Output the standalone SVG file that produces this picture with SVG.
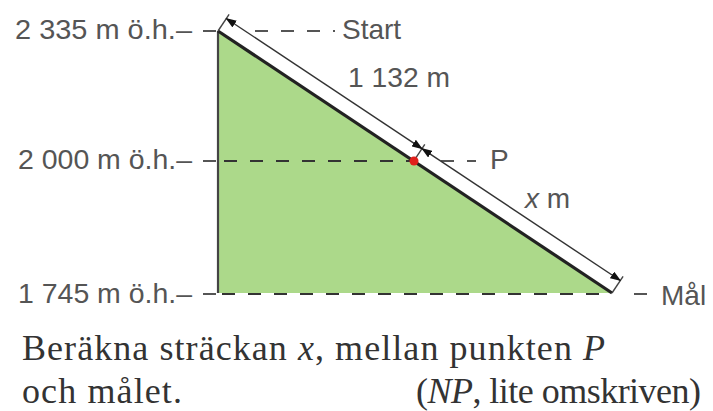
<svg xmlns="http://www.w3.org/2000/svg" width="713" height="411" viewBox="0 0 713 411">
<style>
.lbl{font-family:"Liberation Sans",Arial,sans-serif;font-size:28px;fill:#555}
.cap{font-family:"Liberation Serif","Times New Roman",serif;font-size:36px;fill:#333}
.dash{stroke:#555;stroke-width:2;stroke-dasharray:13 13;fill:none}
.dashd{stroke:#333;stroke-width:2;stroke-dasharray:13 13;fill:none}
.tick{stroke:#444;stroke-width:1.4;fill:none}
.dim{stroke:#333;stroke-width:1.4;fill:none;marker-start:url(#ah);marker-end:url(#ah)}
</style>
<defs>
<marker id="ah" markerUnits="userSpaceOnUse" markerWidth="11" markerHeight="8" refX="10" refY="4" orient="auto-start-reverse">
<path d="M0,0 L11,4 L0,8 z" fill="#111"/>
</marker>
</defs>
<rect width="713" height="411" fill="#fff"/>
<g id="triangle">
<polygon points="218,31 612,293 218,293" fill="#acd98a"/>
<line x1="218" y1="31" x2="218" y2="293" stroke="#444" stroke-width="2.2"/>
</g>
<g id="connectors">
<line class="dash" x1="203" y1="31" x2="335" y2="31"/>
<line class="dash" x1="203" y1="161" x2="218" y2="161"/>
<line class="dashd" x1="220" y1="161" x2="412" y2="161" stroke-dashoffset="-4"/>
<line class="dash" x1="441" y1="161" x2="476" y2="161"/>
<line class="dash" x1="203" y1="294" x2="218" y2="294"/>
<line class="dashd" x1="222" y1="294" x2="612" y2="294"/>
<line class="dash" x1="634" y1="294" x2="648" y2="294"/>
<polygon points="218,31 612,293 620.3,280.5 226.3,18.5" fill="#fff"/>
<line x1="218" y1="31" x2="612" y2="293" stroke="#222" stroke-width="3.2"/>
<line class="tick" x1="218" y1="31" x2="229.1" y2="14.3"/>
<line class="tick" x1="413.7" y1="161.1" x2="424.8" y2="144.4"/>
<line class="tick" x1="612" y1="293" x2="623.1" y2="276.3"/>
<line class="dim" x1="226.3" y1="18.5" x2="422" y2="148.6"/>
<line class="dim" x1="422" y1="148.6" x2="620.3" y2="280.5"/>
</g>
<g id="point-P">
<circle cx="414" cy="161" r="4.5" fill="#e0201c"/>
</g>
<g id="labels">
<text class="lbl" x="15" y="39" textLength="177" lengthAdjust="spacingAndGlyphs">2 335 m ö.h.–</text>
<text class="lbl" x="18" y="169" textLength="174" lengthAdjust="spacingAndGlyphs">2 000 m ö.h.–</text>
<text class="lbl" x="18" y="303" textLength="174" lengthAdjust="spacingAndGlyphs">1 745 m ö.h.–</text>
<text class="lbl" x="342" y="39">Start</text>
<text class="lbl" x="348" y="87" textLength="102" lengthAdjust="spacingAndGlyphs">1 132 m</text>
<text class="lbl" x="490" y="169">P</text>
<text class="lbl" x="525" y="208" font-size="26"><tspan font-style="italic">x</tspan> m</text>
<text class="lbl" x="661" y="305">Mål</text>
</g>
<g id="caption">
<text class="cap" x="22" y="360" textLength="583" lengthAdjust="spacing">Beräkna sträckan <tspan font-style="italic">x</tspan>, mellan punkten <tspan font-style="italic">P</tspan></text>
<text class="cap" x="22" y="403" textLength="160" lengthAdjust="spacing">och målet.</text>
<text class="cap" x="416" y="403" textLength="285" lengthAdjust="spacing">(<tspan font-style="italic">NP</tspan>, lite omskriven)</text>
</g>
</svg>
